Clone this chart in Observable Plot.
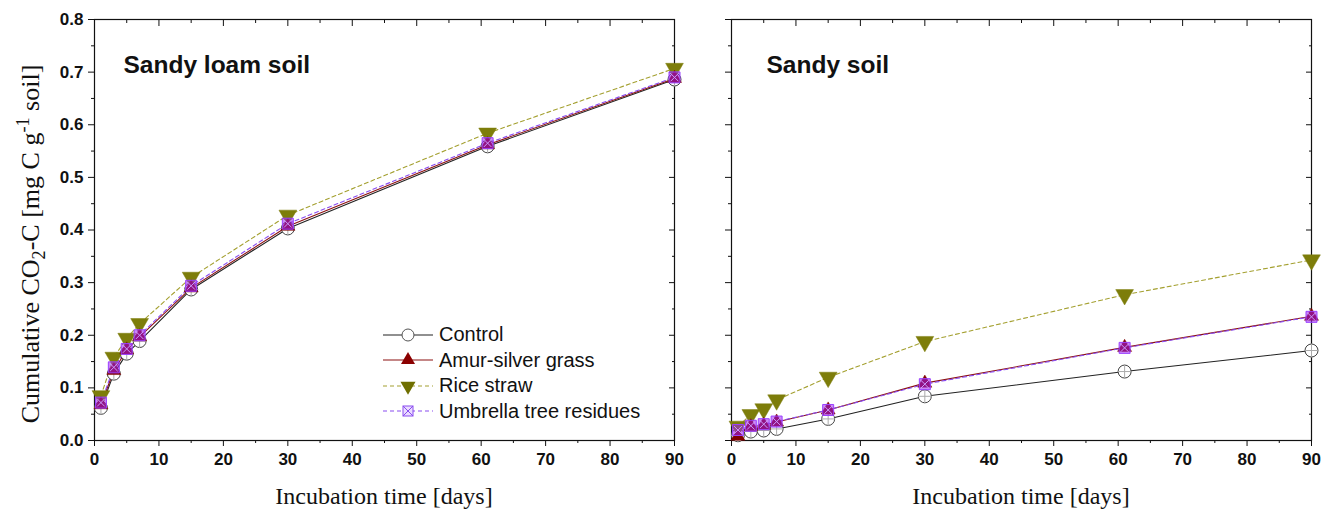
<!DOCTYPE html>
<html><head><meta charset="utf-8">
<script src="https://cdn.jsdelivr.net/npm/d3@7"></script>
<script src="https://cdn.jsdelivr.net/npm/@observablehq/plot@0.6"></script>
<style>
body{margin:0;background:#fff;}
#wrap{position:relative;width:1322px;height:509px;overflow:hidden;background:#fff;}
#left,#right{position:absolute;top:0;}
#left{left:0}
#right{left:700px}
.xl{position:absolute;top:484px;font-family:"Liberation Serif","Times New Roman",serif;font-size:24px;transform:translateX(-50%);white-space:nowrap;line-height:1;color:#111;}
.yl{position:absolute;left:31px;top:244px;font-family:"Liberation Serif","Times New Roman",serif;font-size:26px;white-space:nowrap;line-height:1;color:#111;transform:translate(-50%,-50%) rotate(-90deg);}
.yl sub,.yl sup{font-size:70%;}
#legend{position:absolute;left:380px;top:322px;font-family:"Liberation Sans",Arial,sans-serif;font-size:20px;color:#111;}
#legend .row{display:flex;align-items:center;height:25.5px;}
#legend svg{margin-right:5px;}
</style>
</head><body>
<div id="wrap">
  <div id="left"></div>
  <div id="right"></div>
  <div class="yl">Cumulative CO<sub>2</sub>-C [mg C g<sup>-1</sup> soil]</div>
  <div class="xl" style="left:384px">Incubation time [days]</div>
  <div class="xl" style="left:1021px">Incubation time [days]</div>
  <div id="legend"></div>
</div>
<script>
const days = [1, 3, 5, 7, 15, 30, 61, 90];
const treatments = ["Control", "Amur-silver grass", "Rice straw", "Umbrella tree residues"];
const panelTitles = ["Sandy loam soil", "Sandy soil"];
const xTicks = [0, 10, 20, 30, 40, 50, 60, 70, 80, 90];
const xMinorTicks = [5, 15, 25, 35, 45, 55, 65, 75, 85];
const yTicks = [0, 0.1, 0.2, 0.3, 0.4, 0.5, 0.6, 0.7, 0.8];
const yMinorTicks = [0.05, 0.15, 0.25, 0.35, 0.45, 0.55, 0.65, 0.75];

// Sandy loam soil
const loamControl  = [0.062, 0.127, 0.165, 0.189, 0.287, 0.403, 0.559, 0.686];
const loamAmur     = [0.068, 0.133, 0.172, 0.197, 0.290, 0.407, 0.562, 0.688];
const loamRice     = [0.085, 0.158, 0.194, 0.222, 0.310, 0.428, 0.584, 0.707];
const loamUmbrella = [0.072, 0.139, 0.174, 0.200, 0.294, 0.412, 0.565, 0.690];
// Sandy soil
const sandControl  = [0.010, 0.017, 0.019, 0.022, 0.041, 0.084, 0.131, 0.171];
const sandAmur     = [0.008, 0.026, 0.029, 0.035, 0.058, 0.109, 0.177, 0.236];
const sandRice     = [0.027, 0.049, 0.060, 0.077, 0.120, 0.188, 0.277, 0.343];
const sandUmbrella = [0.020, 0.028, 0.031, 0.036, 0.058, 0.107, 0.176, 0.235];

const styles = {
  "Control": {stroke: "#222", dash: null},
  "Amur-silver grass": {stroke: "#8b1010", dash: null},
  "Rice straw": {stroke: "#a4a030", dash: "4,3"},
  "Umbrella tree residues": {stroke: "#8a4cf0", dash: "4,3"}
};

function rows(series) {
  return series.flatMap((vals, i) => vals.map((v, j) => ({treatment: treatments[i], day: days[j], value: v})));
}

function markerMarks(data) {
  const pick = t => data.filter(d => d.treatment === t);
  return [
    Plot.dot(pick("Control"), {x: "day", y: "value", symbol: "circle", r: 6.5, fill: "white", stroke: "#444", strokeWidth: 1}),
    Plot.dot(pick("Control"), {x: "day", y: "value", symbol: "plus", r: 4.5, stroke: "#aaa", strokeWidth: 1}),
    Plot.dot(pick("Rice straw"), {x: "day", y: "value", symbol: "triangle", rotate: 180, r: 6.6, fill: "#7d7d0a", stroke: "#7d7d0a", strokeWidth: 0.5}),
    Plot.dot(pick("Amur-silver grass"), {x: "day", y: "value", symbol: "triangle", r: 5.2, fill: "#800000", stroke: "#800000", strokeWidth: 0.5}),
    Plot.dot(pick("Umbrella tree residues"), {x: "day", y: "value", symbol: "square", r: 6.2, fill: "#a020f0", fillOpacity: 0.55, stroke: "#9a40ff", strokeWidth: 1}),
    Plot.dot(pick("Umbrella tree residues"), {x: "day", y: "value", symbol: "times", r: 3.6, stroke: "#c99cff", strokeWidth: 1})
  ];
}

function panel(series, title, left) {
  const data = rows(series);
  return Plot.plot({
    width: left ? 700 : 622,
    height: 509,
    marginTop: 19,
    marginBottom: 69,
    marginLeft: left ? 94 : 31,
    marginRight: left ? 26 : 11,
    style: {fontFamily: "'Liberation Sans', Arial, sans-serif", fontSize: "17px", fontWeight: "bold", color: "#111", background: "white"},
    x: {domain: [0, 90]},
    y: {domain: [0, 0.8]},
    marks: [
      Plot.axisX(xTicks, {anchor: "bottom", tickSize: 6, tickPadding: 6, label: null, tickFormat: d3.format("d")}),
      Plot.axisX(xMinorTicks, {anchor: "bottom", tickSize: 3, label: null, tickFormat: () => ""}),
      Plot.axisX(xTicks, {anchor: "top", tickSize: -6, label: null, tickFormat: () => ""}),
      Plot.axisX(xMinorTicks, {anchor: "top", tickSize: -3, label: null, tickFormat: () => ""}),
      Plot.axisY(yTicks, {anchor: "left", tickSize: 6, tickPadding: 5, label: null, tickFormat: left ? d3.format(".1f") : () => ""}),
      Plot.axisY(yMinorTicks, {anchor: "left", tickSize: 3, label: null, tickFormat: () => ""}),
      Plot.axisY(yTicks, {anchor: "right", tickSize: -6, label: null, tickFormat: () => ""}),
      Plot.axisY(yMinorTicks, {anchor: "right", tickSize: -3, label: null, tickFormat: () => ""}),
      Plot.frame({stroke: "#111", strokeWidth: 1.2}),
      ...treatments.map(t => Plot.line(data.filter(d => d.treatment === t), {
        x: "day", y: "value", stroke: styles[t].stroke, strokeWidth: 1.1,
        strokeDasharray: styles[t].dash
      })),
      ...markerMarks(data),
      Plot.text([title], {frameAnchor: "top-left", dx: left ? 29 : 35, dy: 36, fontSize: 24.5, fontWeight: "bold", textAnchor: "start", fill: "#111"})
    ]
  });
}

document.getElementById("left").append(panel([loamControl, loamAmur, loamRice, loamUmbrella], panelTitles[0], true));
document.getElementById("right").append(panel([sandControl, sandAmur, sandRice, sandUmbrella], panelTitles[1], false));

// Legend
const legend = d3.select("#legend");
const sym = (type, r) => d3.symbol(type, Math.PI * r * r)();
treatments.forEach(t => {
  const row = legend.append("div").attr("class", "row");
  const svg = row.append("svg").attr("width", 54).attr("height", 20);
  svg.append("line").attr("x1", 3).attr("x2", 53).attr("y1", 10).attr("y2", 10)
    .attr("stroke", styles[t].stroke).attr("stroke-width", 1.1)
    .attr("stroke-dasharray", styles[t].dash);
  const g = svg.append("g").attr("transform", "translate(28,10)");
  if (t === "Control") {
    g.append("circle").attr("r", 6).attr("fill", "white").attr("stroke", "#555");
  } else if (t === "Amur-silver grass") {
    g.append("path").attr("d", sym(d3.symbolTriangle, 5.2)).attr("fill", "#8b0000");
  } else if (t === "Rice straw") {
    g.append("path").attr("d", sym(d3.symbolTriangle, 5.6)).attr("transform", "rotate(180)").attr("fill", "#6f6f00");
  } else {
    g.append("rect").attr("x", -5).attr("y", -5).attr("width", 10).attr("height", 10).attr("fill", "#eadcff").attr("stroke", "#8a4cf0");
    g.append("path").attr("d", "M-5,-5L5,5M-5,5L5,-5").attr("stroke", "#8a4cf0");
  }
  row.append("span").text(t);
});
</script>
</body></html>
